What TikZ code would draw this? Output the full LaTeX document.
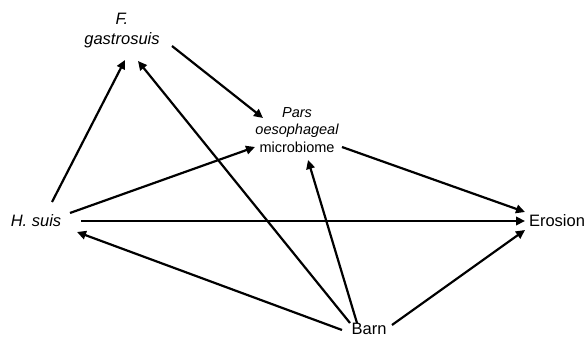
\documentclass[tikz,border=0pt]{standalone}
\usepackage{fontspec}
\setmainfont{Liberation Sans}
\usetikzlibrary{arrows.meta}
\begin{document}
\begin{tikzpicture}[x=1pt,y=-1pt,
  lbl/.style={inner sep=0pt, align=center, font=\fontsize{16.5}{20}\selectfont},
  smalllbl/.style={inner sep=0pt, align=center, font=\fontsize{14.5}{17.5}\selectfont},
  arr/.style={line width=2.2pt, -{Triangle[length=9pt,width=8.5pt]}}]
\useasboundingbox (0,0) rectangle (587,339);
\node[lbl] (fg) at (122,31) {\itshape F.\\\itshape gastrosuis};
\node[smalllbl] (pars) at (297,130) {\itshape Pars\\\itshape oesophageal\\microbiome};
\node[lbl] (hsuis) at (36,221) {\itshape H. suis};
\node[lbl] (eros) at (557,221) {Erosion};
\node[lbl] (barn) at (369,329) {Barn};
\draw[arr] ([shift={(16,-19)}]hsuis.center) -- ([shift={(3,29)}]fg.center);
\draw[arr] ([shift={(-19,-6)}]barn.center) -- ([shift={(16,30)}]fg.center);
\draw[arr] ([shift={(50,15)}]fg.center) -- ([shift={(-34,-12)}]pars.center);
\draw[arr] ([shift={(34,-8)}]hsuis.center) -- ([shift={(-42,17)}]pars.center);
\draw[arr] ([shift={(-12,-6)}]barn.center) -- ([shift={(11,30)}]pars.center);
\draw[arr] ([shift={(45,17)}]pars.center) -- ([shift={(-32,-9)}]eros.center);
\draw[arr] ([shift={(45,0)}]hsuis.center) -- ([shift={(-32,0)}]eros.center);
\draw[arr] ([shift={(-27,1)}]barn.center) -- ([shift={(41,11)}]hsuis.center);
\draw[arr] ([shift={(23,-4)}]barn.center) -- ([shift={(-32,9)}]eros.center);
\end{tikzpicture}
\end{document}
